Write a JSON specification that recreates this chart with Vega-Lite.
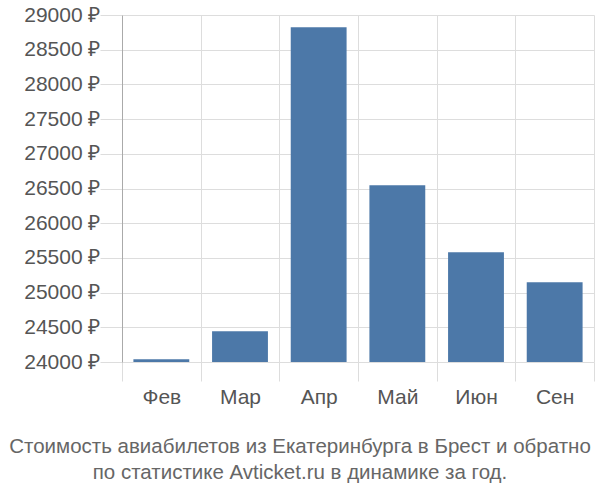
{
  "$schema": "https://vega.github.io/schema/vega-lite/v6.json",
  "width": 472,
  "height": 347,
  "autosize": "none",
  "padding": {"left": 122, "top": 15, "right": 6, "bottom": 138},
  "background": "white",
  "config": {
    "font": "Liberation Sans",
    "view": {"stroke": null}
  },
  "title": {
    "text": ["Стоимость авиабилетов из Екатеринбурга в Брест и обратно", "по статистике Avticket.ru в динамике за год."],
    "orient": "bottom",
    "anchor": "middle",
    "fontSize": 20.5,
    "fontWeight": "normal",
    "color": "#666666",
    "lineHeight": 26,
    "offset": 30,
    "dx": -58
  },
  "data": {
    "values": [
      {"month": "Фев", "price": 24040},
      {"month": "Мар", "price": 24442},
      {"month": "Апр", "price": 28823},
      {"month": "Май", "price": 26546},
      {"month": "Июн", "price": 25580},
      {"month": "Сен", "price": 25148}
    ]
  },
  "mark": {"type": "bar", "color": "#4c78a8", "clip": true, "width": {"band": 0.71}},
  "encoding": {
    "x": {
      "field": "month",
      "type": "ordinal",
      "sort": null,
      "scale": {"paddingInner": 0, "paddingOuter": 0},
      "axis": {
        "title": null,
        "labelAngle": 0,
        "labelFontSize": 21,
        "labelColor": "#555555",
        "labelPadding": 5,
        "tickBand": "extent",
        "tickSize": 19,
        "tickColor": "#dddddd",
        "grid": true,
        "gridColor": "#dddddd",
        "domain": false
      }
    },
    "y": {
      "field": "price",
      "type": "quantitative",
      "scale": {"domain": [24000, 29000], "zero": false, "nice": false},
      "axis": {
        "title": null,
        "values": [24000, 24500, 25000, 25500, 26000, 26500, 27000, 27500, 28000, 28500, 29000],
        "labelExpr": "datum.value + ' ₽'",
        "labelFontSize": 21,
        "labelColor": "#555555",
        "labelPadding": 0,
        "tickSize": 22,
        "tickColor": "#dddddd",
        "gridColor": "#dddddd",
        "domainColor": "#aaaaaa"
      }
    }
  }
}
